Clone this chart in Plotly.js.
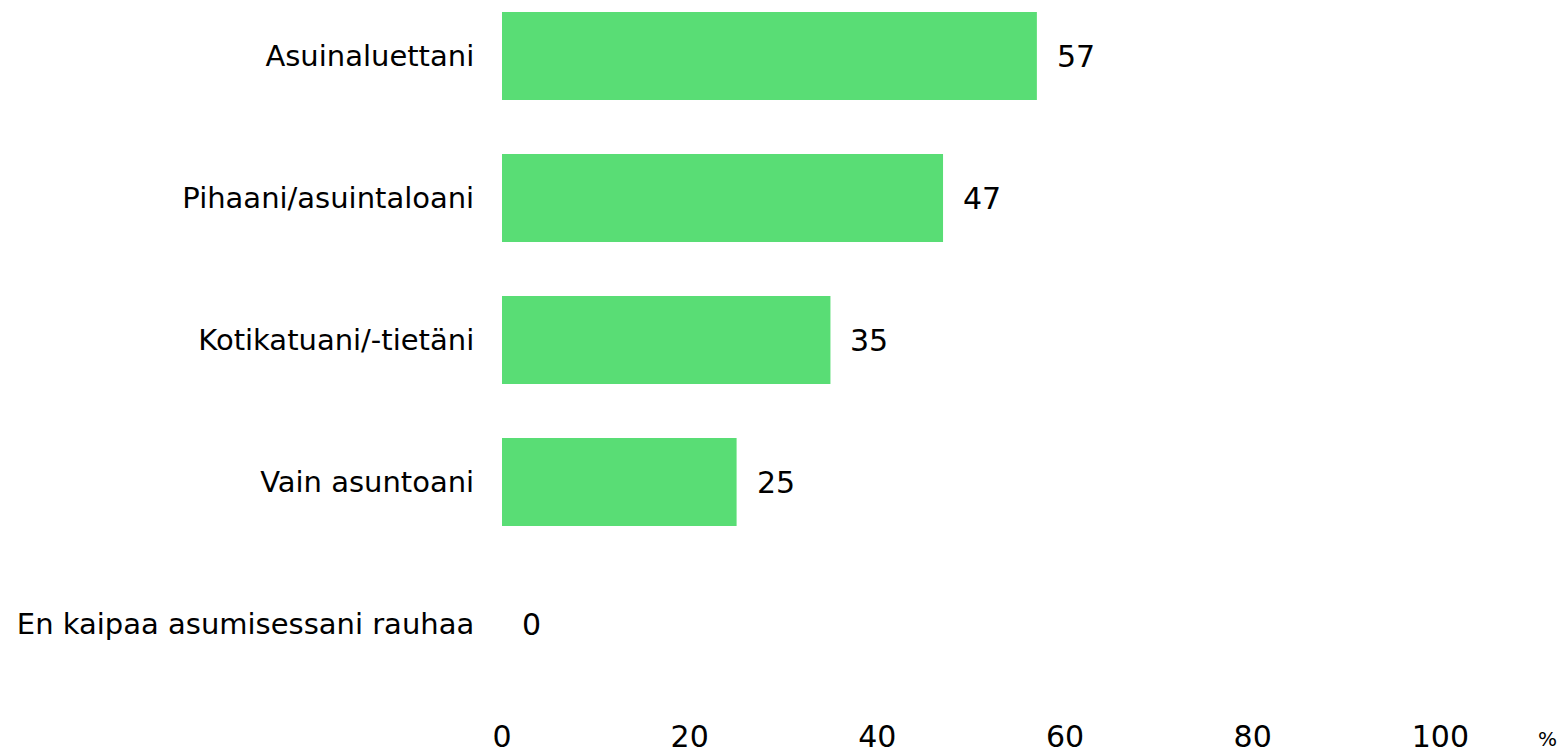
<!DOCTYPE html>
<html>
<head>
<meta charset="utf-8">
<script src="https://cdn.plot.ly/plotly-3.0.1.min.js"></script>
<style>
  html, body { margin: 0; padding: 0; background: #fff; }
  #chart { width: 1563px; height: 753px; }
</style>
</head>
<body>
<div id="chart"></div>
<script>
// categories top to bottom
const categories = [
  'Asuinaluettani',
  'Pihaani/asuintaloani',
  'Kotikatuani/-tietäni',
  'Vain asuntoani',
  'En kaipaa asumisessani rauhaa'
];
const values = [57, 47, 35, 25, 0];
const xTicks = [0, 20, 40, 60, 80, 100];

const font = 'DejaVu Sans, Verdana, sans-serif';
const barColor = 'rgb(89,221,117)';

const trace = {
  type: 'bar',
  orientation: 'h',
  y: categories,
  x: values,
  width: 0.62,
  marker: { color: barColor },
  hoverinfo: 'none'
};

// value labels just right of the bar ends
const labels = categories.map(function (c, i) {
  return {
    x: values[i], y: c, xref: 'x', yref: 'y',
    text: String(values[i]),
    showarrow: false, xanchor: 'left', xshift: 18, yshift: -1,
    font: { family: font, size: 30, color: '#000' }
  };
});
labels.push({
  x: 1, y: 0, xref: 'paper', yref: 'paper',
  text: '%', showarrow: false, xanchor: 'right', yanchor: 'top',
  xshift: 6, yshift: -30,
  font: { family: font, size: 20, color: '#000' }
});

const layout = {
  width: 1563,
  height: 753,
  margin: { l: 502, r: 10, t: 0, b: 58 },
  paper_bgcolor: '#fff',
  plot_bgcolor: '#fff',
  showlegend: false,
  font: { family: font, color: '#000', size: 29 },
  xaxis: {
    range: [0, 112],
    tickvals: xTicks,
    ticktext: xTicks.map(String),
    showgrid: false,
    zeroline: false,
    showline: false,
    ticks: 'outside',
    ticklen: 15,
    tickcolor: 'rgba(0,0,0,0)',
    tickfont: { family: font, size: 30, color: '#000' }
  },
  yaxis: {
    type: 'category',
    range: [4.5, -0.394],
    showgrid: false,
    zeroline: false,
    showline: false,
    ticks: 'outside',
    ticklen: 21,
    tickcolor: 'rgba(0,0,0,0)',
    tickfont: { family: font, size: 29, color: '#000' }
  },
  annotations: labels
};

Plotly.newPlot('chart', [trace], layout, { displayModeBar: false, staticPlot: true });
</script>
</body>
</html>
